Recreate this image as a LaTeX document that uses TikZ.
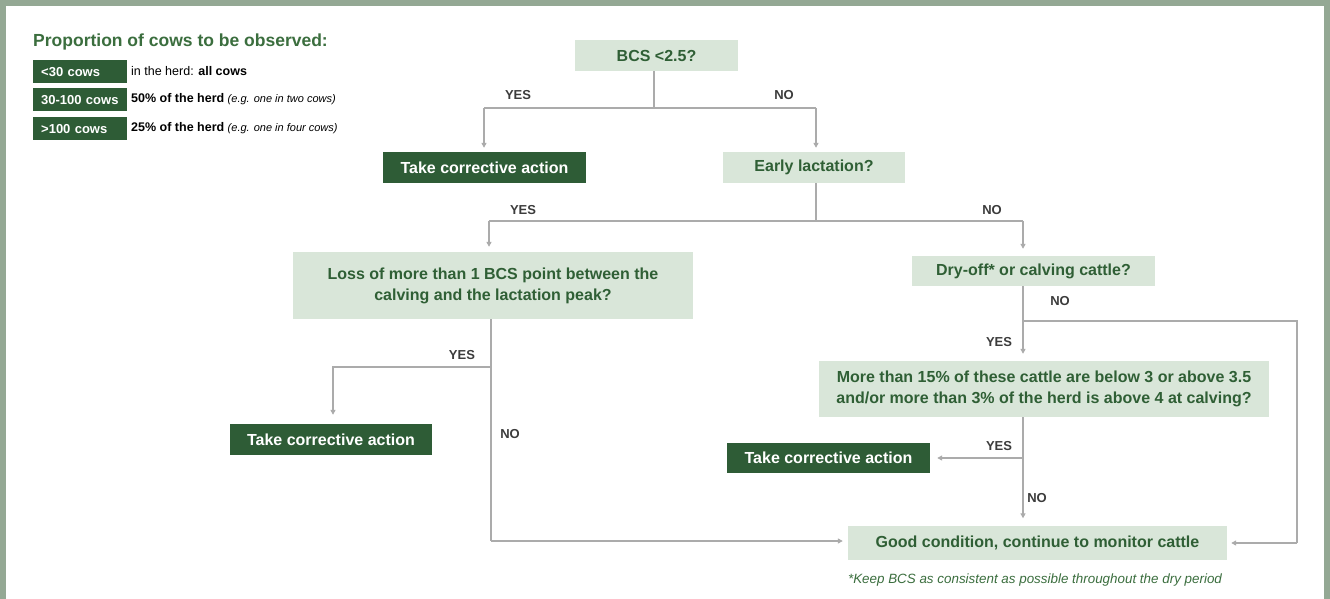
\documentclass[tikz,border=0pt]{standalone}
\usepackage{fontspec}
\setmainfont{Liberation Sans}
\usetikzlibrary{arrows.meta}
\definecolor{framec}{HTML}{94A894}
\definecolor{dkg}{HTML}{2E5C36}
\definecolor{ltg}{HTML}{D9E6D9}
\definecolor{txg}{HTML}{2F5F35}
\definecolor{titg}{HTML}{3B6E3E}
\definecolor{lnc}{HTML}{ABABAB}
\definecolor{lblc}{HTML}{3C3C3C}
\begin{document}
\begin{tikzpicture}[x=1pt,y=-1pt,
  q/.style={fill=ltg, text=txg, font=\bfseries\fontsize{16}{21}\selectfont, inner sep=0pt, align=center},
  act/.style={fill=dkg, text=white, font=\bfseries\fontsize{16}{20}\selectfont, inner sep=0pt, align=center},
  conn/.style={draw=lnc, line width=1.5pt},
  arr/.style={conn, -{Triangle[width=5pt,length=5pt]}},
  lab/.style={text=lblc, font=\bfseries\fontsize{13}{15}\selectfont, inner sep=0pt},
  lbox/.style={fill=dkg, text=white, font=\bfseries\fontsize{13}{15}\selectfont, inner xsep=8pt, inner ysep=0pt, minimum width=94pt, text width=78pt, minimum height=23pt, align=left, anchor=north west},
  ltxt/.style={text=black, font=\fontsize{12.5}{15}\selectfont, inner sep=0pt, anchor=west},
]
\useasboundingbox (0,0) rectangle (1330,599);
\fill[framec] (0,0) rectangle (1330,599);
\fill[white] (6,6) rectangle (1324,599);

% legend
\node[anchor=base west, text=titg, font=\bfseries\fontsize{17.5}{20}\selectfont, inner sep=0pt] (title) at (33,47) {Proportion of cows to be observed:};
\node[lbox] (l1) at (33,60) {<30 cows};
\node[lbox] (l2) at (33,88) {30-100 cows};
\node[lbox] (l3) at (33,117) {>100 cows};
\node[ltxt] (t1r) at (131,71.5) {in the herd: \textbf{all cows}};
\node[ltxt] (t2r) at (131,99.5) {\textbf{50\% of the herd} {\fontsize{11}{13}\selectfont\itshape (e.g. one in two cows)}};
\node[ltxt] (t3r) at (131,128.5) {\textbf{25\% of the herd} {\fontsize{11}{13}\selectfont\itshape (e.g. one in four cows)}};

% boxes
\node[q, minimum width=163pt, minimum height=31pt] (bcs) at (656.5,55.5) {BCS <2.5?};
\node[act, minimum width=203pt, minimum height=31pt] (ta) at (484.5,167.5) {Take corrective action};
\node[q, minimum width=182pt, minimum height=31pt] (early) at (814,167.5) {Early lactation?};
\node[q, minimum width=400pt, minimum height=67pt] (loss) at (493,285.5) {Loss of more than 1 BCS point between the\\calving and the lactation peak?};
\node[q, minimum width=243pt, minimum height=30pt] (dry) at (1033.5,271) {Dry-off* or calving cattle?};
\node[q, minimum width=450pt, minimum height=56pt] (more) at (1044,389) {More than 15\% of these cattle are below 3 or above 3.5\\and/or more than 3\% of the herd is above 4 at calving?};
\node[act, minimum width=202pt, minimum height=31pt] (tb) at (331,439.5) {Take corrective action};
\node[act, minimum width=203pt, minimum height=30pt] (tc) at (828.5,458) {Take corrective action};
\node[q, minimum width=379pt, minimum height=34pt] (good) at (1037.5,542.5) {Good condition, continue to monitor cattle};
\node[text=titg, font=\itshape\fontsize{13.4}{15}\selectfont, inner sep=0pt] (foot) at (1035,580) {*Keep BCS as consistent as possible throughout the dry period};

% junctions
\coordinate (j1) at (654,108);
\coordinate (j1L) at (484,108);
\coordinate (j1R) at (816,108);
\coordinate (j2) at (816,221);
\coordinate (j2L) at (489,221);
\coordinate (j2R) at (1023,221);
\coordinate (j3) at (1023,321);
\coordinate (j3R) at (1297,321);
\coordinate (j3B) at (1297,543);
\coordinate (j4) at (1023,458);
\coordinate (j5) at (491,367);
\coordinate (j5L) at (333,367);
\coordinate (j5B) at (491,541);

% connectors
\draw[conn] (bcs.south -| j1) -- (j1);
\draw[conn] (j1L) -- (j1R);
\draw[arr] (j1L) -- ([yshift=4pt]ta.north -| j1L);
\draw[arr] (j1R) -- ([yshift=4pt]early.north -| j1R);

\draw[conn] (early.south -| j2) -- (j2);
\draw[conn] (j2L) -- (j2R);
\draw[arr] (j2L) -- ([yshift=5pt]loss.north -| j2L);
\draw[arr] (j2R) -- ([yshift=7pt]dry.north -| j2R);

\draw[conn] (dry.south -| j3) -- (j3) -- (j3R) -- (j3B);
\draw[arr] (j3B) -- ([xshift=4pt]good.east |- j3B);
\draw[arr] (j3) -- ([yshift=7pt]more.north -| j3);

\draw[conn] (more.south -| j4) -- (j4);
\draw[arr] (j4) -- ([xshift=7pt]tc.east |- j4);
\draw[arr] (j4) -- ([yshift=7pt]good.north -| j4);

\draw[conn] (loss.south -| j5) -- (j5B);
\draw[arr] (j5) -- (j5L) -- ([yshift=9pt]tb.north -| j5L);
\draw[arr] (j5B) -- ([xshift=-5pt]good.west |- j5B);

% labels
\node[lab] (y1) at (518,95) {YES};
\node[lab] (n1) at (784,95) {NO};
\node[lab] (y2) at (523,210) {YES};
\node[lab] (n2) at (992,210) {NO};
\node[lab] (n3) at (1060,301) {NO};
\node[lab] (y3) at (999,342) {YES};
\node[lab] (y4) at (462,355) {YES};
\node[lab] (n4) at (510,434) {NO};
\node[lab] (y5) at (999,446) {YES};
\node[lab] (n5) at (1037,498) {NO};
\end{tikzpicture}
\end{document}
